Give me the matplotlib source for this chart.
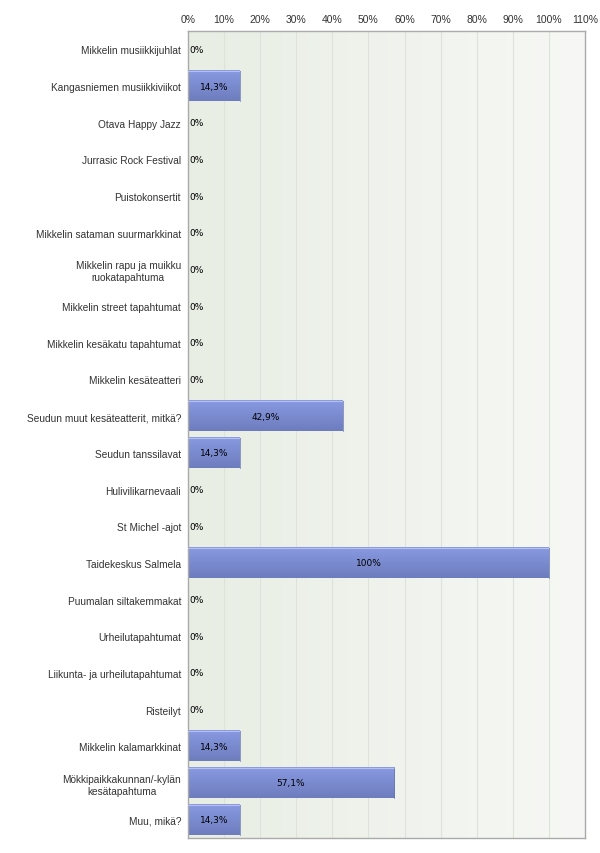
import numpy as np
import matplotlib
matplotlib.use('Agg')
import matplotlib.pyplot as plt
from matplotlib.colors import LinearSegmentedColormap

categories = [
    'Mikkelin musiikkijuhlat',
    'Kangasniemen musiikkiviikot',
    'Otava Happy Jazz',
    'Jurrasic Rock Festival',
    'Puistokonsertit',
    'Mikkelin sataman suurmarkkinat',
    'Mikkelin rapu ja muikku\nruokatapahtuma',
    'Mikkelin street tapahtumat',
    'Mikkelin kesäkatu tapahtumat',
    'Mikkelin kesäteatteri',
    'Seudun muut kesäteatterit, mitkä?',
    'Seudun tanssilavat',
    'Hulivilikarnevaali',
    'St Michel -ajot',
    'Taidekeskus Salmela',
    'Puumalan siltakemmakat',
    'Urheilutapahtumat',
    'Liikunta- ja urheilutapahtumat',
    'Risteilyt',
    'Mikkelin kalamarkkinat',
    'Mökkipaikkakunnan/-kylän\nkesätapahtuma',
    'Muu, mikä?',
]
values = [0, 14.3, 0, 0, 0, 0, 0, 0, 0, 0, 42.9, 14.3, 0, 0, 100, 0, 0, 0, 0, 14.3, 57.1, 14.3]
ticks = list(range(0, 111, 10))

plt.rcParams['font.family'] = ['Liberation Sans', 'DejaVu Sans']

fig = plt.figure(figsize=(6, 8.54), dpi=100)
ax = fig.add_axes([0.3133, 0.0176, 0.6617, 0.9449])

n = len(categories)
y = np.arange(n)
ax.set_xlim(0, 110)
ax.set_ylim(n - 0.5, -0.5)

# background gradient
bg = LinearSegmentedColormap.from_list('bg', ['#e8eee4', '#f7f8f5'])
ax.imshow(np.linspace(0, 1, 256).reshape(1, -1), cmap=bg, aspect='auto',
          extent=[0, 110, n - 0.5, -0.5], zorder=0)

for t in ticks[1:-1]:
    ax.axvline(t, color='#dde2da', linewidth=0.8, zorder=1)

# bars with vertical gradient
barcm = LinearSegmentedColormap.from_list('bar', ['#8a9ae2', '#6c7cbd'])
grad = np.linspace(0, 1, 64).reshape(-1, 1)
h = 0.82
for i, v in enumerate(values):
    if v > 0:
        ax.imshow(grad, cmap=barcm, aspect='auto',
                  extent=[0, v, i + h / 2, i - h / 2], zorder=2)
        ax.plot([0, v], [i - h / 2, i - h / 2], color='#b4c0ee', linewidth=0.8, zorder=3)
        ax.plot([v, v], [i - h / 2, i + h / 2], color='#6474b0', linewidth=0.5, zorder=3)
        ax.text(v / 2, i, f'{v:.1f}%'.replace('.0%', '%').replace('.', ','),
                ha='center', va='center', fontsize=6.5, color='black',
                family='DejaVu Sans', zorder=4)
    else:
        ax.text(0.5, i, '0%', ha='left', va='center', fontsize=6.5,
                color='black', family='DejaVu Sans', zorder=4)

ax.set_yticks(y)
ax.set_yticklabels(categories, fontsize=7.3, color='#333333', multialignment='center')
ax.tick_params(axis='y', length=0, pad=5)

ax.set_xticks(ticks)
ax.set_xticklabels([f'{t}%' for t in ticks], fontsize=7.5, color='#333333')
ax.xaxis.tick_top()
ax.tick_params(axis='x', length=0, pad=5)

for s in ax.spines.values():
    s.set_color('#aaaaaa')
    s.set_linewidth(1)

fig.savefig('out.png', dpi=100)
